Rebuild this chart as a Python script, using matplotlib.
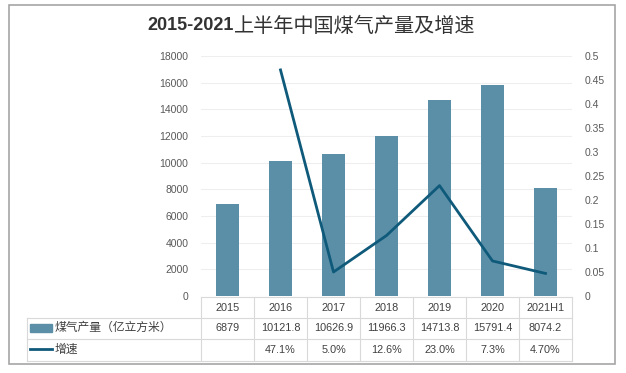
import matplotlib
matplotlib.use('Agg')
import matplotlib.pyplot as plt
from matplotlib.lines import Line2D
from matplotlib.patches import Rectangle
from matplotlib.ticker import FuncFormatter
import matplotlib.transforms as mtransforms

plt.rcParams['font.family'] = ['Liberation Sans', 'Noto Sans CJK SC']

# Data
YEARS = ['2015', '2016', '2017', '2018', '2019', '2020', '2021H1']
OUTPUT = [6879, 10121.8, 10626.9, 11966.3, 14713.8, 15791.4, 8074.2]
OUTPUT_LABELS = ['6879', '10121.8', '10626.9', '11966.3', '14713.8',
                 '15791.4', '8074.2']
GROWTH = [None, 0.471, 0.050, 0.126, 0.230, 0.073, 0.047]
GROWTH_LABELS = ['', '47.1%', '5.0%', '12.6%', '23.0%', '7.3%', '4.70%']
BAR_NAME = '煤气产量（亿立方米）'
LINE_NAME = '增速'
TITLE_NUM = '2015-2021'
TITLE_TEXT = '上半年中国煤气产量及增速'

# Look
W, H = 626, 373
BAR_COLOR = '#5b8fa7'
LINE_COLOR = '#0f5a7a'
GRID_COLOR = '#d9d9d9'
TEXT_COLOR = '#595959'


def fy(py):
    """Pixel y (from top) to figure fraction."""
    return 1 - py / H


def fx(px):
    return px / W


fig = plt.figure(figsize=(W / 100, H / 100), dpi=100)

# outer border
fig.add_artist(Rectangle((fx(9), fy(364)), fx(606), 359 / H,
                         fill=False, edgecolor='#a6a6a6', linewidth=1.2))

ax = fig.add_axes([fx(201), fy(296), fx(371), 240 / H])
ax2 = ax.twinx()

x = list(range(len(YEARS)))
ax.bar(x, OUTPUT, width=0.42, color=BAR_COLOR, zorder=2)
ax.set_xlim(-0.5, len(YEARS) - 0.5)
ax.set_ylim(0, 18000)
ax.set_yticks(range(0, 18001, 2000))
ax.yaxis.grid(True, color='#eeeeee', linewidth=0.8, zorder=0)
ax.set_axisbelow(True)
ax.set_xticks([])

gx = [i for i, g in zip(x, GROWTH) if g is not None]
gy = [g for g in GROWTH if g is not None]
ax2.plot(gx, gy, color=LINE_COLOR, linewidth=2, zorder=3)
ax2.set_ylim(0, 0.5)
ax2.set_yticks([i * 0.05 for i in range(11)])
ax2.yaxis.set_major_formatter(FuncFormatter(lambda v, p: '%g' % round(v, 2)))

for a in (ax, ax2):
    for s in a.spines.values():
        s.set_visible(False)
    a.tick_params(length=0, labelsize=7.5, labelcolor=TEXT_COLOR)
ax.tick_params(axis='y', pad=9)
ax2.tick_params(axis='y', pad=9)

# title: bold numbers, regular Chinese
fig.text(fx(234), fy(26), TITLE_NUM, ha='right', va='center',
         fontsize=13, fontweight='bold', color='#333333')
fig.text(fx(234), fy(26), TITLE_TEXT, ha='left', va='center',
         fontsize=14.5, fontweight='medium', color='#333333')

# data table under the chart
trans = mtransforms.blended_transform_factory(ax.transData, fig.transFigure)
row_y = [fy(308), fy(328), fy(350)]
lines_y = [297, 318, 339, 361]
left_px = 27

for i, year in enumerate(YEARS):
    ax.text(i, row_y[0], year, transform=trans, ha='center', va='center',
            fontsize=7.8, color='#404040', clip_on=False)
    ax.text(i, row_y[1], OUTPUT_LABELS[i], transform=trans, ha='center',
            va='center', fontsize=7.8, color='#404040', clip_on=False)
    ax.text(i, row_y[2], GROWTH_LABELS[i], transform=trans, ha='center',
            va='center', fontsize=7.8, color='#404040', clip_on=False)

# grid of the table
for k, py in enumerate(lines_y):
    x0 = fx(201) if k == 0 else fx(left_px)
    fig.add_artist(Line2D([x0, fx(572)], [fy(py), fy(py)],
                          color=GRID_COLOR, linewidth=0.8))
for i in range(len(YEARS) + 1):
    xpix = ax.transData.transform((i - 0.5, 0))[0]
    fig.add_artist(Line2D([xpix / W, xpix / W], [fy(297), fy(361)],
                          color=GRID_COLOR, linewidth=0.8))
fig.add_artist(Line2D([fx(left_px), fx(left_px)], [fy(318), fy(361)],
                      color=GRID_COLOR, linewidth=0.8))

# legend keys in the table
fig.add_artist(Rectangle((fx(30), fy(332)), fx(22), 8 / H,
                         color=BAR_COLOR))
fig.text(fx(55), row_y[1], BAR_NAME, ha='left', va='center',
         fontsize=8.5, color='#404040')
fig.add_artist(Line2D([fx(30), fx(52)], [fy(349), fy(349)],
                      color=LINE_COLOR, linewidth=2))
fig.text(fx(55), row_y[2], LINE_NAME, ha='left', va='center',
         fontsize=8.5, color='#404040')

fig.savefig('out.png', dpi=100)
